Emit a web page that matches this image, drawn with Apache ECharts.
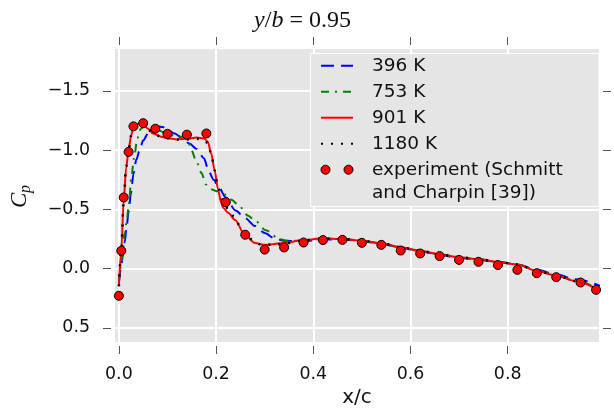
<!DOCTYPE html>
<html>
<head>
<meta charset="utf-8">
<script src="https://cdn.jsdelivr.net/npm/echarts@6/dist/echarts.min.js"></script>
<style>
html,body{margin:0;padding:0;background:#fff;}
#chart{width:614px;height:416px;}
</style>
</head>
<body>
<div id="chart"></div>
<script>
// ---- data ----
const seriesNames = ['396 K', '753 K', '901 K', '1180 K', 'experiment (Schmitt and Charpin [39])'];
const xTicks = [0.0, 0.2, 0.4, 0.6, 0.8];
const yTicks = [-1.5, -1.0, -0.5, 0.0, 0.5];

const xExp  = [0.0, 0.005, 0.01, 0.02, 0.03, 0.05, 0.075, 0.10, 0.14, 0.18, 0.22, 0.26, 0.30, 0.34, 0.38, 0.42, 0.46, 0.50, 0.54, 0.58, 0.62, 0.66, 0.70, 0.74, 0.78, 0.82, 0.86, 0.90, 0.95, 0.982];
const cpExp = [0.23, -0.15, -0.60, -0.985, -1.20, -1.227, -1.18, -1.137, -1.13, -1.14, -0.56, -0.285, -0.16, -0.178, -0.22, -0.24, -0.242, -0.217, -0.20, -0.152, -0.127, -0.105, -0.073, -0.057, -0.029, 0.011, 0.039, 0.073, 0.118, 0.18];

const x396  = [0.0, 0.004, 0.008, 0.012, 0.016, 0.02, 0.025, 0.03, 0.036, 0.042, 0.05, 0.06, 0.07, 0.08, 0.09, 0.10, 0.115, 0.13, 0.145, 0.16, 0.175, 0.185, 0.195, 0.205, 0.22, 0.24, 0.26, 0.28, 0.30, 0.32, 0.34, 0.38, 0.42, 0.46, 0.50, 0.54, 0.58, 0.62, 0.66, 0.70, 0.74, 0.78, 0.82, 0.86, 0.90, 0.94, 0.99];
const cp396 = [0.12, 0.0, -0.1, -0.22, -0.36, -0.48, -0.64, -0.8, -0.92, -0.99, -1.08, -1.14, -1.18, -1.2, -1.195, -1.17, -1.14, -1.1, -1.055, -1.01, -0.93, -0.82, -0.75, -0.69, -0.6, -0.49, -0.425, -0.36, -0.30, -0.255, -0.235, -0.23, -0.245, -0.245, -0.23, -0.21, -0.175, -0.145, -0.115, -0.09, -0.075, -0.055, -0.035, 0.01, 0.05, 0.09, 0.145];

const x753  = [0.0, 0.004, 0.008, 0.012, 0.016, 0.02, 0.026, 0.031, 0.038, 0.045, 0.055, 0.065, 0.08, 0.10, 0.12, 0.137, 0.143, 0.149, 0.16, 0.17, 0.179, 0.19, 0.20, 0.211, 0.221, 0.232, 0.245, 0.266, 0.28, 0.302, 0.331, 0.345, 0.38, 0.42, 0.46, 0.50, 0.54, 0.58, 0.62, 0.66, 0.70, 0.74, 0.78, 0.82, 0.86, 0.90, 0.94, 0.99];
const cp753 = [0.12, -0.02, -0.15, -0.30, -0.40, -0.52, -0.78, -0.93, -1.10, -1.18, -1.21, -1.2, -1.17, -1.135, -1.115, -1.11, -1.07, -1.0, -0.9, -0.806, -0.71, -0.67, -0.655, -0.645, -0.62, -0.58, -0.54, -0.445, -0.405, -0.324, -0.248, -0.234, -0.235, -0.25, -0.248, -0.232, -0.212, -0.178, -0.148, -0.118, -0.094, -0.078, -0.058, -0.035, 0.018, 0.058, 0.102, 0.18];

const x901  = [0.0, 0.005, 0.01, 0.015, 0.02, 0.025, 0.03, 0.04, 0.05, 0.06, 0.07, 0.085, 0.10, 0.12, 0.14, 0.16, 0.175, 0.183, 0.19, 0.197, 0.204, 0.21, 0.215, 0.225, 0.239, 0.259, 0.28, 0.30, 0.34, 0.38, 0.42, 0.46, 0.50, 0.54, 0.58, 0.62, 0.66, 0.70, 0.74, 0.78, 0.82, 0.86, 0.90, 0.94, 0.99];
const cp901 = [0.15, -0.16, -0.58, -0.85, -1.0, -1.12, -1.2, -1.225, -1.22, -1.18, -1.14, -1.115, -1.1, -1.09, -1.095, -1.105, -1.1, -1.07, -0.97, -0.83, -0.67, -0.56, -0.51, -0.47, -0.41, -0.285, -0.215, -0.2, -0.215, -0.24, -0.255, -0.25, -0.235, -0.215, -0.18, -0.15, -0.12, -0.095, -0.08, -0.055, -0.035, 0.02, 0.06, 0.105, 0.19];

const x1180  = [0.0, 0.005, 0.01, 0.015, 0.02, 0.025, 0.03, 0.04, 0.05, 0.06, 0.07, 0.085, 0.10, 0.12, 0.14, 0.16, 0.175, 0.183, 0.19, 0.197, 0.204, 0.215, 0.225, 0.237, 0.249, 0.262, 0.277, 0.29, 0.32, 0.34, 0.38, 0.42, 0.46, 0.50, 0.54, 0.58, 0.62, 0.66, 0.70, 0.74, 0.78, 0.82, 0.86, 0.90, 0.94, 0.99];
const cp1180 = [0.15, -0.17, -0.58, -0.86, -1.0, -1.12, -1.2, -1.225, -1.215, -1.175, -1.14, -1.115, -1.1, -1.09, -1.09, -1.095, -1.09, -1.06, -0.97, -0.83, -0.68, -0.56, -0.5, -0.44, -0.36, -0.29, -0.23, -0.205, -0.2, -0.21, -0.238, -0.253, -0.25, -0.235, -0.215, -0.18, -0.15, -0.12, -0.095, -0.08, -0.055, -0.035, 0.02, 0.06, 0.105, 0.19];

// ---- helpers ----
function pairs(xs, ys) { return xs.map(function (x, i) { return [x, ys[i]]; }); }
const tickColor = '#555';
const labelFont = 'DejaVu Sans';

const chart = echarts.init(document.getElementById('chart'), null, { renderer: 'canvas' });

function lineSeries(name, xs, ys, color, width, type) {
  return {
    name: name, type: 'line', data: pairs(xs, ys),
    showSymbol: false, symbol: 'none',
    smooth: 0.3, smoothMonotone: 'x',
    itemStyle: { color: color },
    lineStyle: { color: color, width: width, type: type },
    z: 2
  };
}

const hiddenSymbol = { color: 'rgba(0,0,0,0)', borderWidth: 0, opacity: 0 };

const option = {
  animation: false,
  backgroundColor: '#ffffff',
  grid: {
    left: 115, top: 49, right: 15, bottom: 74,
    show: true, backgroundColor: '#E5E5E5', borderWidth: 0
  },
  xAxis: [
    {
      type: 'value', position: 'bottom', min: -0.008, max: 0.988, offset: 4,
      axisLine: { show: false, onZero: false },
      axisTick: { show: true, length: 8, lineStyle: { color: tickColor, width: 1 }, customValues: xTicks },
      axisLabel: { customValues: xTicks, margin: 20, fontSize: 17.4, color: '#111', fontFamily: labelFont,
        formatter: function (v) { return v.toFixed(1); } },
      splitLine: { show: true, lineStyle: { color: '#ffffff', width: 2 } },
      name: 'x/c', nameLocation: 'middle', nameGap: 42,
      nameTextStyle: { fontSize: 20, color: '#111', fontFamily: labelFont }
    },
    {
      type: 'value', position: 'top', min: -0.008, max: 0.988, offset: 4,
      axisLine: { show: false, onZero: false },
      axisTick: { show: true, length: 8, lineStyle: { color: tickColor, width: 1 }, customValues: xTicks },
      axisLabel: { show: false },
      splitLine: { show: false }
    }
  ],
  yAxis: [
    {
      type: 'value', position: 'left', inverse: true, min: -1.853, max: 0.62, offset: 4,
      axisLine: { show: false, onZero: false },
      axisTick: { show: true, length: 8, lineStyle: { color: tickColor, width: 1 }, customValues: yTicks },
      axisLabel: { customValues: yTicks, margin: 21, fontSize: 17.4, color: '#111', fontFamily: labelFont,
        formatter: function (v) { return (v < 0 ? '\u2212' : '') + Math.abs(v).toFixed(1); } },
      splitLine: { show: true, lineStyle: { color: '#ffffff', width: 2 } }
    },
    {
      type: 'value', position: 'right', inverse: true, min: -1.853, max: 0.62, offset: 4,
      axisLine: { show: false, onZero: false },
      axisTick: { show: true, length: 8, lineStyle: { color: tickColor, width: 1 }, customValues: yTicks },
      axisLabel: { show: false },
      splitLine: { show: false }
    }
  ],
  legend: {
    orient: 'vertical', left: 310, top: 53,
    padding: [1, 10, 4, 10],
    itemGap: 2.6, itemWidth: 32, itemHeight: 9,
    textStyle: { fontSize: 18.5, lineHeight: 23.4, color: '#111', fontFamily: labelFont, padding: [0, 0, 0, 14] },
    formatter: function (name) {
      return name === seriesNames[4] ? 'experiment (Schmitt\nand Charpin [39])' : name;
    },
    data: [
      { name: seriesNames[0], itemStyle: hiddenSymbol },
      { name: seriesNames[1], itemStyle: hiddenSymbol },
      { name: seriesNames[2], itemStyle: hiddenSymbol },
      { name: seriesNames[3], itemStyle: hiddenSymbol },
      {
        name: seriesNames[4],
        icon: 'path://M0,4.5a4.5,4.5 0 1,0 9,0a4.5,4.5 0 1,0 -9,0M23,4.5a4.5,4.5 0 1,0 9,0a4.5,4.5 0 1,0 -9,0',
        itemStyle: { color: '#ff0000', borderColor: '#000', borderWidth: 1 },
        textStyle: { padding: [0, 0, -23.4, 14], rich: { a: { fontSize: 18.5 } } }
      }
    ],
    z: 6
  },
  graphic: [
    {
      type: 'rect', z: 3,
      shape: { x: 310.5, y: 53.5, width: 288.5, height: 153 },
      style: { fill: '#E5E5E5', stroke: '#ffffff', lineWidth: 1 }
    },
    {
      type: 'text', x: 302.5, y: 21, z: 10,
      style: {
        text: '{i|y}{n|/}{i|b}{n| = 0.95}',
        align: 'center', verticalAlign: 'middle',
        rich: {
          i: { fontFamily: 'Liberation Serif', fontStyle: 'italic', fontSize: 24, fill: '#111' },
          n: { fontFamily: 'Liberation Serif', fontSize: 24, fill: '#111' }
        }
      }
    },
    {
      type: 'group', x: 20, y: 197, rotation: Math.PI / 2, z: 10,
      children: [
        { type: 'text', x: -11, y: 0, style: { text: 'C', fontFamily: 'Liberation Serif', fontStyle: 'italic', fontSize: 23, fill: '#111', align: 'left', verticalAlign: 'middle' } },
        { type: 'text', x: 4, y: 6, style: { text: 'p', fontFamily: 'Liberation Serif', fontStyle: 'italic', fontSize: 16, fill: '#111', align: 'left', verticalAlign: 'middle' } }
      ]
    }
  ],
  series: [
    lineSeries(seriesNames[0], x396, cp396, '#0000ff', 2, [13, 7]),
    lineSeries(seriesNames[1], x753, cp753, '#008000', 2, [8, 6, 2, 6]),
    lineSeries(seriesNames[2], x901, cp901, '#ff0000', 2, 'solid'),
    lineSeries(seriesNames[3], x1180, cp1180, '#000000', 2.5, [2, 8]),
    {
      name: seriesNames[4], type: 'scatter', data: pairs(xExp, cpExp),
      symbol: 'circle', symbolSize: 9,
      itemStyle: { color: '#ff0000', borderColor: '#000000', borderWidth: 1, opacity: 1 },
      z: 5
    }
  ]
};
chart.setOption(option);
</script>
</body>
</html>
